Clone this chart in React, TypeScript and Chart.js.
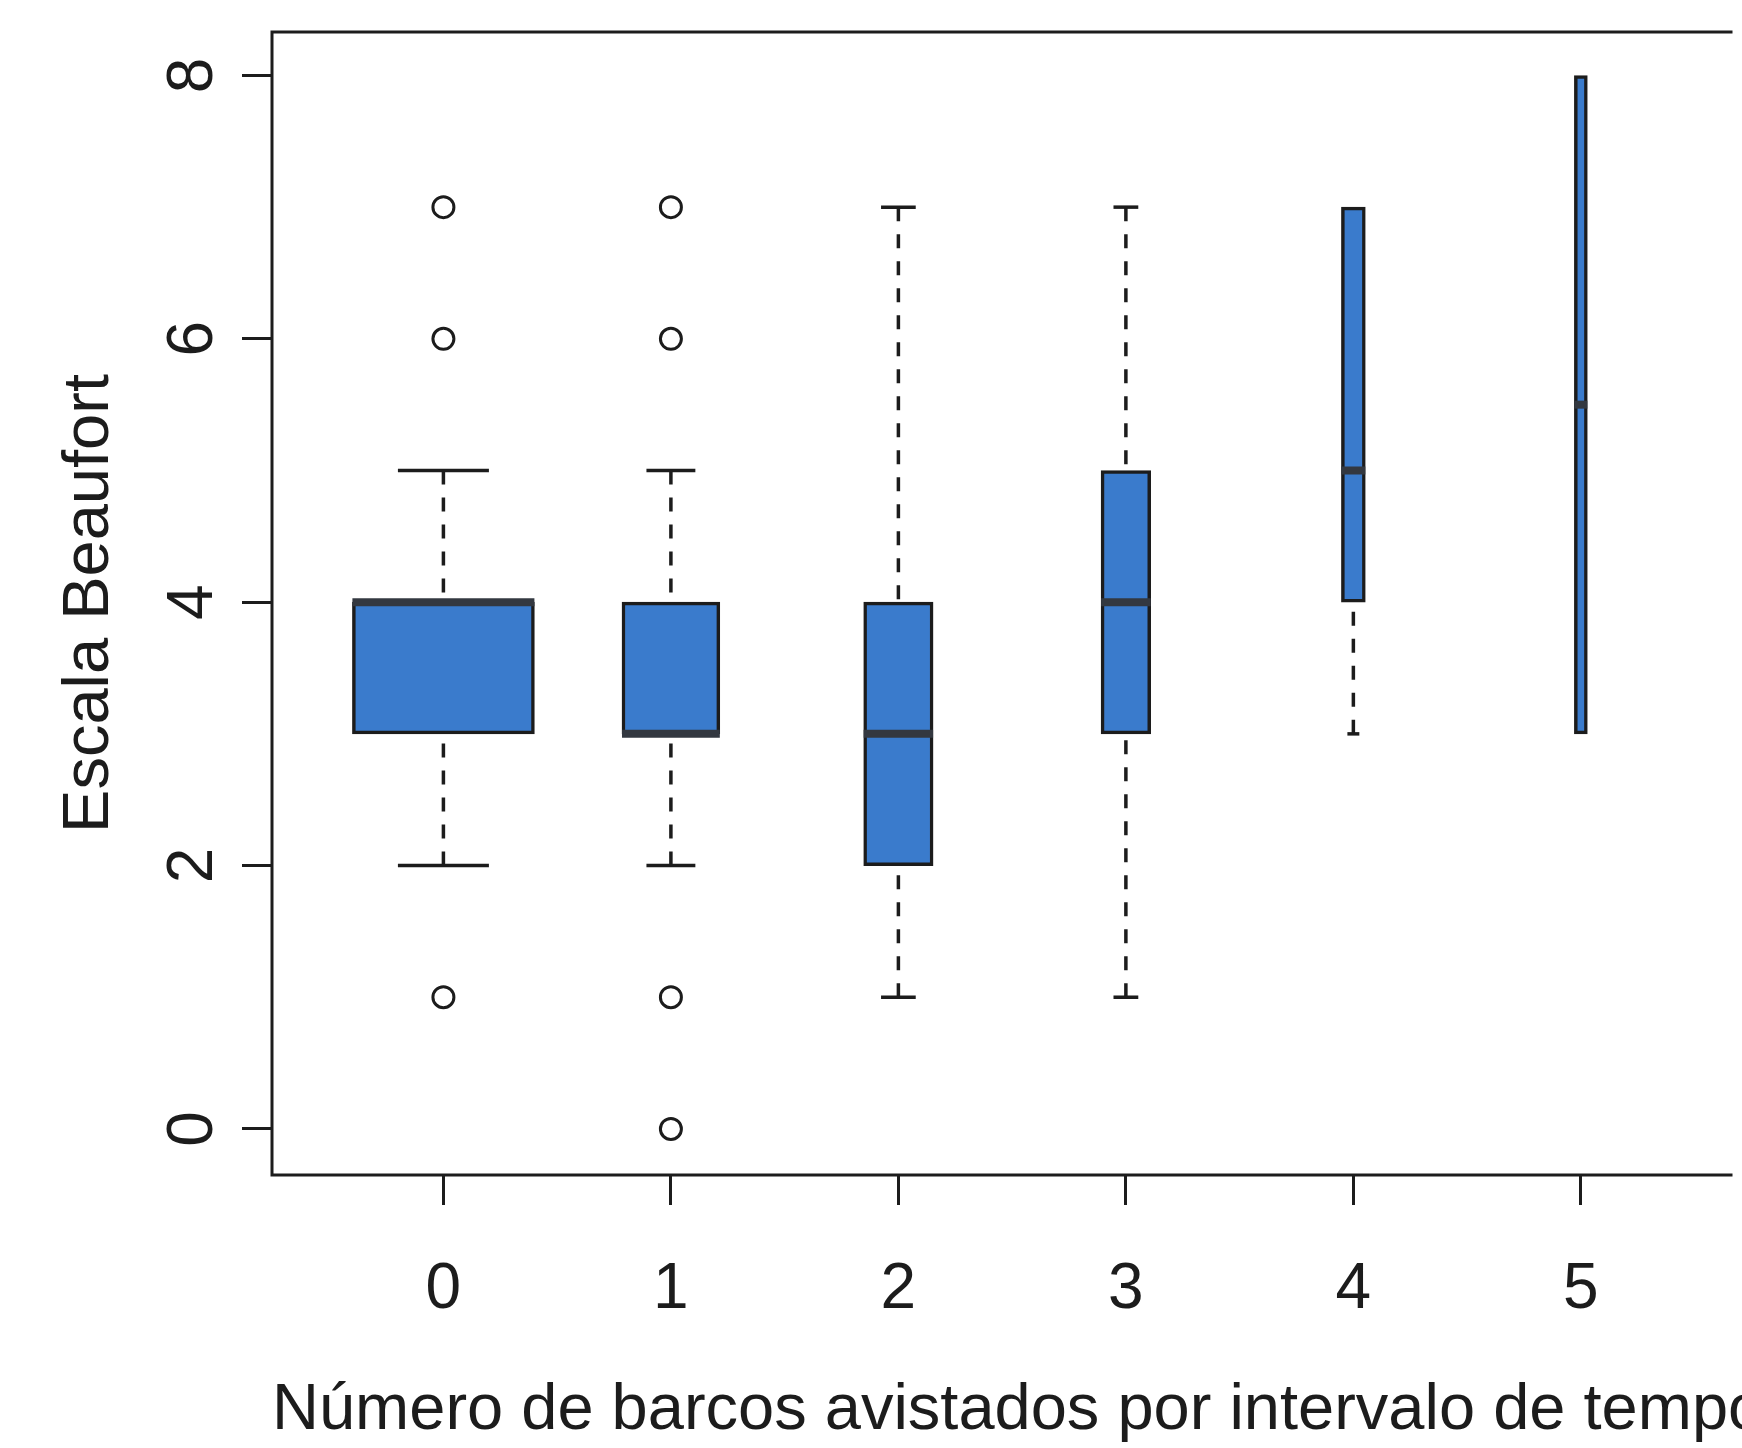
import React, { useEffect, useRef } from "react";
import { Chart, registerables } from "chart.js";

Chart.register(...registerables);

// Boats sighted per time interval vs. Beaufort scale
const categories = [0, 1, 2, 3, 4, 5];
const lowerWhisker = [2, 2, 1, 1, 3, 3];
const q1 = [3, 3, 2, 3, 4, 3];
const median = [4, 3, 3, 4, 5, 5.5];
const q3 = [4, 4, 4, 5, 7, 8];
const upperWhisker = [5, 5, 7, 7, 7, 8];
// box widths in category units (variable width, proportional to sqrt(n))
const boxWidths = [0.8, 0.43, 0.305, 0.218, 0.105, 0.057];
const outliers: number[][] = [[7, 6, 1], [7, 6, 1, 0], [], [], [], []];
const yTicks = [0, 2, 4, 6, 8];

const xLabel = "Número de barcos avistados por intervalo de tempo";
const yLabel = "Escala Beaufort";

const FONT = "'Liberation Sans', Arial, Helvetica, sans-serif";
const INK = "#1c1c1c";
const BOX_FILL = "#3a7bcc";

function unitPx(chart: any): number {
  const x = chart.scales?.x;
  if (!x) return 100;
  const u = Math.abs(x.getPixelForValue(1) - x.getPixelForValue(0));
  return isFinite(u) && u > 0 ? u : 100;
}

// Whiskers, staples and medians drawn on the chart's own scales
const boxDecor = {
  id: "boxDecor",
  afterDatasetsDraw(chart: any) {
    const { ctx, scales } = chart;
    const x = scales.x;
    const y = scales.y;
    const u = unitPx(chart);
    ctx.save();
    categories.forEach((c, i) => {
      const xc = x.getPixelForValue(c);
      const half = (boxWidths[i] * u) / 2;
      const staple = half / 2;
      ctx.strokeStyle = INK;
      ctx.lineWidth = 3.5;
      ctx.lineCap = "butt";
      const segs: [number, number][] = [];
      if (lowerWhisker[i] < q1[i]) segs.push([lowerWhisker[i], q1[i]]);
      if (upperWhisker[i] > q3[i]) segs.push([upperWhisker[i], q3[i]]);
      segs.forEach(([from, to]) => {
        ctx.setLineDash([14, 13]);
        ctx.beginPath();
        ctx.moveTo(xc, y.getPixelForValue(from));
        ctx.lineTo(xc, y.getPixelForValue(to));
        ctx.stroke();
        ctx.setLineDash([]);
        ctx.beginPath();
        ctx.moveTo(xc - staple, y.getPixelForValue(from));
        ctx.lineTo(xc + staple, y.getPixelForValue(from));
        ctx.stroke();
      });
      // median
      ctx.setLineDash([]);
      ctx.strokeStyle = "#333840";
      ctx.lineWidth = 8;
      ctx.beginPath();
      ctx.moveTo(xc - half, y.getPixelForValue(median[i]));
      ctx.lineTo(xc + half, y.getPixelForValue(median[i]));
      ctx.stroke();
    });
    ctx.restore();
  },
};

// Plot frame (top, left, bottom) and the x-axis title, which runs past the canvas edge
const frame = {
  id: "frame",
  afterDraw(chart: any) {
    const { ctx, chartArea, scales } = chart;
    ctx.save();
    ctx.strokeStyle = INK;
    ctx.lineWidth = 3;
    ctx.lineJoin = "miter";
    ctx.beginPath();
    ctx.moveTo(chartArea.right + 4, chartArea.top);
    ctx.lineTo(chartArea.left, chartArea.top);
    ctx.lineTo(chartArea.left, chartArea.bottom);
    ctx.lineTo(chartArea.right + 4, chartArea.bottom);
    ctx.stroke();

    ctx.fillStyle = INK;
    ctx.font = `65px ${FONT}`;
    ctx.textAlign = "left";
    ctx.textBaseline = "alphabetic";
    ctx.fillText(xLabel, scales.x.left, scales.x.bottom - 19);
    ctx.restore();
  },
};

export default function App() {
  const ref = useRef<HTMLCanvasElement | null>(null);

  useEffect(() => {
    document.body.style.margin = "0";
    document.body.style.overflow = "hidden";
    document.body.style.background = "#ffffff";
    if (!ref.current) return;

    const boxDatasets = categories.map((c, i) => ({
      type: "bar" as const,
      data: [{ x: c, y: [q1[i], q3[i]] }],
      backgroundColor: BOX_FILL,
      borderColor: INK,
      borderWidth: 3.5,
      borderSkipped: false,
      grouped: false,
      barThickness: (ctx: any) => boxWidths[i] * unitPx(ctx.chart),
      order: 2,
    }));

    const outlierPoints = categories.flatMap((c, i) =>
      outliers[i].map((v) => ({ x: c, y: v }))
    );

    const chart = new Chart(ref.current, {
      type: "bar",
      data: {
        datasets: [
          ...boxDatasets,
          {
            type: "scatter" as const,
            data: outlierPoints,
            pointStyle: "circle",
            pointRadius: 10.5,
            pointBorderWidth: 3,
            borderColor: INK,
            backgroundColor: "rgba(0,0,0,0)",
            showLine: false,
            order: 1,
          } as any,
        ],
      },
      options: {
        responsive: false,
        animation: false,
        devicePixelRatio: 1,
        layout: { padding: { top: 32, left: 0, right: 0, bottom: 0 } },
        plugins: {
          legend: { display: false },
          tooltip: { enabled: false },
        },
        scales: {
          x: {
            type: "linear",
            min: -0.7535,
            max: 5.649,
            offset: false,
            afterBuildTicks: (scale: any) => {
              scale.ticks = categories.map((v) => ({ value: v }));
            },
            afterFit: (scale: any) => {
              scale.height = 273;
              scale.paddingLeft = 0;
              scale.paddingRight = 0;
            },
            grid: {
              display: true,
              offset: false,
              drawOnChartArea: false,
              drawTicks: true,
              tickLength: 30,
              tickWidth: 3,
              tickColor: INK,
            },
            border: { display: false },
            ticks: {
              color: INK,
              font: { family: FONT, size: 64 },
              padding: 47,
              maxRotation: 0,
              minRotation: 0,
              autoSkip: false,
              callback: (v: any) => String(v),
            },
            title: { display: false },
          },
          y: {
            type: "linear",
            min: -0.35,
            max: 8.33,
            afterBuildTicks: (scale: any) => {
              scale.ticks = yTicks.map((v) => ({ value: v }));
            },
            afterFit: (scale: any) => {
              scale.width = 272;
              scale.paddingTop = 0;
              scale.paddingBottom = 0;
            },
            grid: {
              display: true,
              drawOnChartArea: false,
              drawTicks: true,
              tickLength: 30,
              tickWidth: 3,
              tickColor: INK,
            },
            border: { display: false },
            ticks: {
              color: INK,
              font: { family: FONT, size: 64 },
              minRotation: 90,
              maxRotation: 90,
              crossAlign: "center",
              padding: 30,
              callback: (v: any) => String(v),
            },
            title: {
              display: true,
              text: yLabel,
              color: INK,
              font: { family: FONT, size: 65 },
              padding: { top: 51, bottom: 0 },
            },
          },
        },
      } as any,
      plugins: [boxDecor, frame],
    });

    return () => chart.destroy();
  }, []);

  return (
    <canvas
      ref={ref}
      width={1742}
      height={1448}
      style={{ display: "block", width: "1742px", height: "1448px" }}
    />
  );
}
